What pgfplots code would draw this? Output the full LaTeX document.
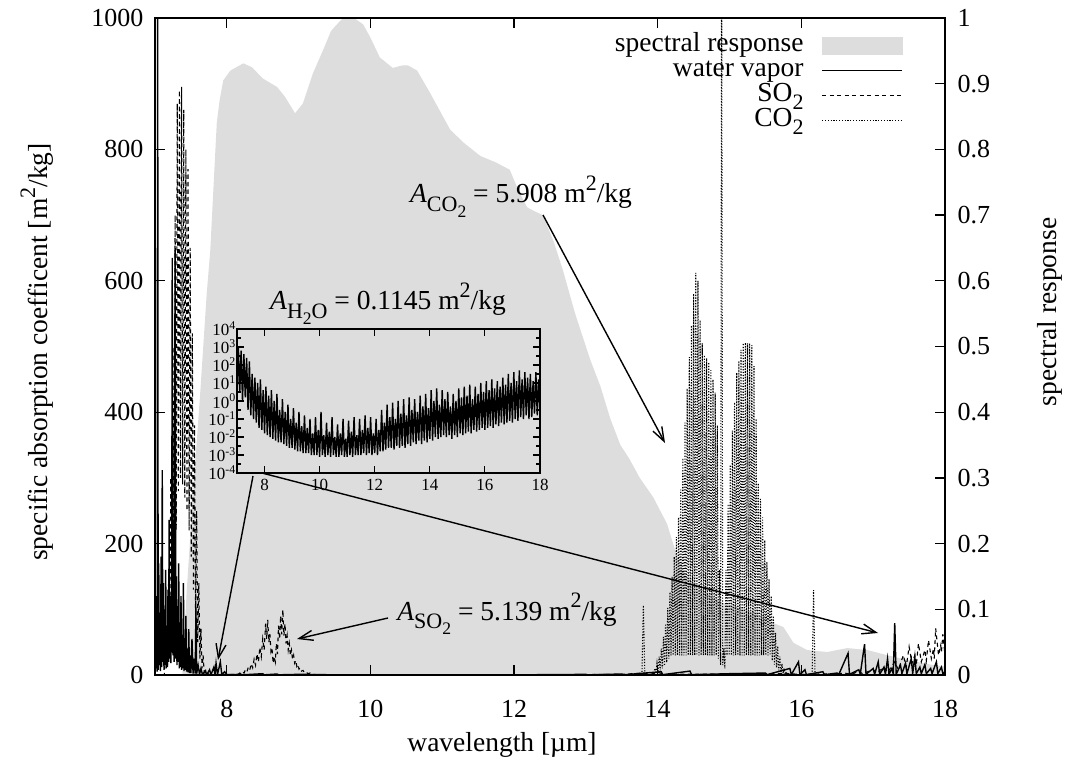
\documentclass[border=0pt]{standalone}
\usepackage{fontspec}
\setmainfont{Liberation Serif}
\usepackage{graphicx}
\usepackage{pgfplots}
\pgfplotsset{compat=1.18}
\usetikzlibrary{arrows.meta}
\definecolor{srgray}{RGB}{221,221,221}
\newcommand{\gsub}[1]{\raisebox{-0.3em}{\scalebox{0.8}{#1}}}
\newcommand{\gsup}[1]{\raisebox{0.45em}{\scalebox{0.8}{#1}}}
\begin{document}
\begin{tikzpicture}[font=\fontsize{27.5}{32}\selectfont]
% ---------- right axis: spectral response ----------
\begin{axis}[
  at={(0pt,0pt)}, anchor=south west, scale only axis,
  width=790pt, height=657pt,
  xmin=7, xmax=18, ymin=0, ymax=1,
  axis x line=none, axis y line*=right,
  ytick={0,0.1,0.2,0.3,0.4,0.5,0.6,0.7,0.8,0.9,1},
  yticklabels={0,0.1,0.2,0.3,0.4,0.5,0.6,0.7,0.8,0.9,1},
  tick align=inside, major tick length=10pt,
  axis line style={line width=1.3pt},
  every tick/.style={line width=1.3pt, black},
  yticklabel style={font=\fontsize{26}{31}\selectfont, xshift=9pt},
]
\addplot[fill=srgray, draw=none] coordinates {
(7.38,0) (7.44,0.125) (7.53,0.277) (7.63,0.43) (7.72,0.58) (7.77,0.647) (7.81,0.733)
(7.86,0.84) (7.90,0.875) (7.95,0.905) (8.05,0.92) (8.23,0.931) (8.35,0.925) (8.50,0.908)
(8.70,0.895) (8.81,0.88) (8.95,0.855) (9.06,0.87) (9.20,0.916) (9.34,0.951) (9.45,0.98)
(9.53,0.99) (9.62,1.0) (9.72,1.0) (9.80,0.998) (9.90,0.99) (10.0,0.97) (10.13,0.94)
(10.31,0.924) (10.45,0.928) (10.52,0.928) (10.65,0.92) (10.83,0.886) (11.11,0.83)
(11.3,0.81) (11.53,0.79) (11.75,0.78) (11.94,0.769) (12.05,0.74) (12.18,0.712)
(12.30,0.705) (12.40,0.70) (12.55,0.66) (12.68,0.616) (12.85,0.55) (13.06,0.48)
(13.2,0.44) (13.34,0.39) (13.48,0.35) (13.6,0.33) (13.75,0.30) (13.94,0.27)
(14.13,0.23) (14.27,0.18) (14.4,0.15) (14.6,0.13) (14.9,0.11) (15.2,0.10) (15.45,0.09)
(15.61,0.079) (15.75,0.073) (15.89,0.049) (16.08,0.038) (16.36,0.035) (16.64,0.041)
(16.92,0.038) (17.2,0.03) (17.47,0.023) (17.84,0.015) (18.0,0.013)
} \closedcycle;
\end{axis}
% ---------- left axis: absorption coefficients ----------
\begin{axis}[
  at={(0pt,0pt)}, anchor=south west, scale only axis,
  width=790pt, height=657pt,
  xmin=7, xmax=18, ymin=0, ymax=1000,
  xtick={8,10,12,14,16,18}, ytick={0,200,400,600,800,1000},
  xtick pos=both, ytick pos=left,
  tick align=inside, major tick length=10pt,
  /pgf/number format/assume math mode=true,
  /pgf/number format/1000 sep={},
  axis line style={line width=1.3pt},
  every tick/.style={line width=1.3pt, black},
  tick label style={font=\fontsize{26}{31}\selectfont},
  xticklabel style={yshift=-22pt},
  yticklabel style={xshift=-8pt},
  legend style={draw=none, fill=none, at={(0.947,0.977)}, anchor=north east,
    inner sep=0pt, row sep=1pt, column sep=18pt,
    nodes={inner sep=0pt, text height=18pt, text depth=6pt},
    font=\fontsize{27.5}{32}\selectfont},
  legend cell align=right, legend plot pos=right,
  legend image code/.code={\draw[#1] (0pt,0pt) -- (80pt,0pt);},
]
\addlegendimage{legend image code/.code={\fill[srgray] (0pt,-8.5pt) rectangle (80pt,8.5pt);}}
\addlegendentry{spectral response}
\addplot[black, line width=1.4pt] coordinates {
(7.000,0) (7.008,120) (7.014,10) (7.022,60) (7.030,5) (7.037,1100) (7.044,8) (7.052,170)
(7.060,15) (7.068,95) (7.076,6) (7.085,180) (7.093,12) (7.101,312) (7.109,20) (7.117,140)
(7.125,8) (7.133,100) (7.141,15) (7.149,160) (7.157,10) (7.165,75) (7.173,12) (7.181,130)
(7.189,20) (7.197,236) (7.205,25) (7.213,120) (7.221,18) (7.232,90) (7.240,635) (7.250,30)
(7.258,110) (7.266,20) (7.280,647) (7.290,25) (7.298,150) (7.306,15) (7.314,90) (7.322,20)
(7.330,170) (7.338,10) (7.346,80) (7.354,12) (7.362,120) (7.370,8) (7.380,60) (7.388,10)
(7.396,140) (7.404,6) (7.412,50) (7.420,8) (7.430,90) (7.440,5) (7.450,40) (7.460,4)
(7.470,70) (7.480,3) (7.490,30) (7.500,3) (7.515,55) (7.530,2) (7.545,25) (7.560,2)
(7.570,103) (7.580,2) (7.600,15) (7.620,1) (7.640,10) (7.660,1) (7.700,6) (7.720,0.5)
(7.760,8) (7.780,0.5) (7.820,12) (7.835,0.5) (7.850,18) (7.870,0.5) (7.910,20) (7.930,0.5)
(7.970,5) (8.000,0.5) (8.200,1) (8.220,0.3) (8.500,2) (8.520,0.3) (8.700,1.5) (8.720,0.3)
(9.000,1) (9.500,0.3) (10.500,0.3) (11.500,0.3) (12.500,0.5) (13.000,1) (13.020,0.3)
(13.500,1.5) (13.520,0.3) (14.050,5) (14.070,0.5) (14.450,6) (14.470,0.5) (15.000,2)
(15.500,3) (15.520,0.5) (15.840,10) (15.860,0.5) (15.960,20) (15.980,0.5) (16.050,8)
(16.070,0.5) (16.300,5) (16.320,0.5) (16.500,3) (16.520,0.5) (16.650,33) (16.670,1)
(16.800,8) (16.820,1) (16.880,47) (16.900,1) (17.000,10) (17.020,1) (17.070,20) (17.090,1)
(17.150,12) (17.170,1) (17.200,25) (17.220,1) (17.260,10) (17.280,1) (17.300,79) (17.320,1)
(17.380,15) (17.400,2) (17.450,18) (17.470,2) (17.530,25) (17.550,2) (17.580,28) (17.600,2)
(17.650,12) (17.670,2) (17.720,16) (17.740,2) (17.800,10) (17.820,2) (17.880,20) (17.900,2)
(17.950,12) (17.970,2) (18.000,5)
};
\addlegendentry{water vapor}
\addplot[black, line width=1.1pt, dash pattern=on 4pt off 3.5pt] coordinates {
(7.000,0) (7.130,0) (7.16,60) (7.175,15) (7.19,150) (7.205,40) (7.22,300) (7.235,80)
(7.25,500) (7.265,150) (7.28,700) (7.295,220) (7.31,870) (7.325,280) (7.34,890) (7.355,300)
(7.37,895) (7.385,290) (7.40,860) (7.415,270) (7.43,800) (7.445,250) (7.46,770) (7.475,220)
(7.49,650) (7.505,180) (7.52,520) (7.535,130) (7.55,380) (7.565,90) (7.58,250) (7.595,50)
(7.61,140) (7.625,25) (7.64,70) (7.655,10) (7.67,30) (7.685,4) (7.70,10) (7.715,1) (7.73,3)
(7.76,0.5) (8.10,1) (8.14,2) (8.16,1) (8.18,3) (8.20,2) (8.22,5) (8.24,3) (8.26,8) (8.28,5)
(8.30,12) (8.32,8) (8.34,17) (8.36,11) (8.38,24) (8.40,15) (8.42,32) (8.44,20) (8.46,42)
(8.48,28) (8.50,55) (8.52,38) (8.54,78) (8.555,55) (8.57,84) (8.585,50) (8.60,62) (8.615,35)
(8.63,40) (8.645,18) (8.66,28) (8.675,20) (8.69,48) (8.705,32) (8.72,75) (8.735,55) (8.75,90)
(8.765,62) (8.78,99) (8.795,60) (8.81,78) (8.825,48) (8.84,60) (8.855,38) (8.87,48) (8.885,30)
(8.90,38) (8.915,24) (8.93,30) (8.945,18) (8.96,22) (8.975,13) (8.99,16) (9.005,9) (9.02,11)
(9.04,6) (9.06,7) (9.08,4) (9.10,5) (9.13,2) (9.16,3) (9.20,1) (9.25,0.5) (10.5,0.2)
(12.5,0.2) (13.5,1) (13.8,3) (13.9,1) (14.0,4) (14.1,1) (15.8,2) (16.0,1) (16.5,2) (16.6,3)
(16.7,1) (16.8,6) (16.85,2) (17.0,8) (17.05,3) (17.15,12) (17.2,4) (17.3,20) (17.35,8)
(17.42,30) (17.46,12) (17.5,43) (17.54,18) (17.58,30) (17.6,15) (17.63,48) (17.67,20)
(17.72,38) (17.74,22) (17.77,53) (17.81,25) (17.84,40) (17.85,25) (17.87,71) (17.91,30)
(17.94,45) (17.95,35) (17.97,62) (18.0,30)
};
\addlegendentry{SO\gsub{2}}
\addplot[black, line width=1.1pt, dash pattern=on 1.1pt off 1.7pt] coordinates {
(7.0,0) (13.78,0) (13.80,106) (13.82,0) (13.88,0)
(13.90,2) (13.915,0.5) (13.93,5) (13.945,1) (13.96,10) (13.975,2) (13.99,18) (14.005,4)
(14.02,28) (14.035,7) (14.05,40) (14.065,10) (14.08,58) (14.095,14) (14.11,78) (14.125,19)
(14.14,102) (14.155,25) (14.17,126) (14.185,30) (14.20,150) (14.215,30) (14.23,180) (14.245,30)
(14.26,210) (14.275,30) (14.29,240) (14.305,30) (14.32,282) (14.335,30) (14.35,330) (14.365,30)
(14.38,384) (14.395,30) (14.41,436) (14.425,30) (14.44,484) (14.455,30) (14.47,532) (14.485,30)
(14.50,580) (14.515,30) (14.53,612) (14.545,30) (14.56,600) (14.575,30) (14.59,540) (14.605,30)
(14.62,505) (14.635,30) (14.65,487) (14.665,30) (14.68,482) (14.695,30) (14.71,476) (14.725,30)
(14.74,464) (14.755,30) (14.77,450) (14.785,30) (14.80,430) (14.815,30) (14.83,380) (14.845,25)
(14.86,160) (14.875,15) (14.89,1100) (14.905,15) (14.92,40) (14.935,10) (14.95,160) (14.965,30)
(14.98,260) (14.995,30) (15.01,320) (15.025,30) (15.04,372) (15.055,30) (15.07,415) (15.085,30)
(15.10,460) (15.115,30) (15.13,478) (15.145,30) (15.16,495) (15.175,30) (15.19,505) (15.205,30)
(15.22,506) (15.235,30) (15.25,505) (15.265,30) (15.28,505) (15.295,30) (15.31,502) (15.325,30)
(15.34,470) (15.355,30) (15.37,390) (15.385,30) (15.40,292) (15.415,30) (15.43,268) (15.445,30)
(15.46,240) (15.475,30) (15.49,205) (15.505,30) (15.52,172) (15.535,30) (15.55,146) (15.565,30)
(15.58,120) (15.595,22) (15.61,90) (15.625,16) (15.64,64) (15.655,11) (15.67,44) (15.685,7)
(15.70,28) (15.715,4) (15.73,17) (15.745,2) (15.76,10) (15.775,1) (15.79,5) (15.805,0.5)
(15.82,2) (15.85,0) (16.15,0) (16.17,129) (16.19,0) (18,0)
};
\addlegendentry{CO\gsub{2}}
\end{axis}
% ---------- inset ----------
\begin{axis}[
  at={(82pt,202pt)}, anchor=south west, scale only axis,
  width=303pt, height=144pt,
  xmin=7, xmax=18, ymode=log, ymin=1e-4, ymax=1e4,
  xtick={8,10,12,14,16,18}, xtick pos=both,
  ytick={1e-4,1e-3,1e-2,1e-1,1,1e1,1e2,1e3,1e4}, ytick pos=both,
  yticklabels={10\textsuperscript{-4},10\textsuperscript{-3},10\textsuperscript{-2},10\textsuperscript{-1},10\textsuperscript{0},10\textsuperscript{1},10\textsuperscript{2},10\textsuperscript{3},10\textsuperscript{4}},
  minor ytick={3.16e-4,3.16e-3,3.16e-2,3.16e-1,3.16,31.6,316,3160},
  tick align=inside, major tick length=7pt, minor tick length=4pt,
  /pgf/number format/assume math mode=true,
  axis line style={line width=1.3pt},
  every tick/.style={line width=1.1pt, black},
  tick label style={font=\fontsize{17}{20}\selectfont},
  xticklabel style={yshift=-3pt},
  yticklabel style={inner sep=1pt},
]
\addplot[black, line width=1.4pt] coordinates {
(7.00,2) (7.05,1000) (7.10,3.2) (7.15,630) (7.20,1) (7.25,400) (7.30,1.6) (7.35,250)
(7.40,0.32) (7.45,160) (7.50,0.16) (7.55,32) (7.60,0.1) (7.65,20) (7.70,0.063) (7.75,10)
(7.80,0.032) (7.85,16) (7.90,0.025) (7.95,4) (8.00,0.016) (8.05,6.3) (8.10,0.0126) (8.15,2)
(8.20,0.01) (8.25,4) (8.30,0.008) (8.35,1) (8.40,0.0063) (8.45,2.5) (8.50,0.005) (8.55,0.32)
(8.60,0.005) (8.65,1.26) (8.70,0.004) (8.75,0.25) (8.80,0.0032) (8.85,0.63) (8.90,0.0025)
(8.95,0.1) (9.00,0.0025) (9.05,0.4) (9.10,0.002) (9.15,0.063) (9.20,0.0016) (9.25,0.25)
(9.30,0.0016) (9.35,0.04) (9.40,0.00126) (9.45,0.16) (9.50,0.00126) (9.55,0.032)
(9.60,0.00126) (9.65,0.1) (9.70,0.001) (9.75,0.016) (9.80,0.001) (9.85,0.126) (9.90,0.001)
(9.95,0.025) (10.00,0.0008) (10.05,0.25) (10.10,0.001) (10.15,0.0126) (10.20,0.0008)
(10.25,0.063) (10.30,0.001) (10.35,0.02) (10.40,0.0008) (10.45,0.126) (10.50,0.001)
(10.55,0.01) (10.60,0.0008) (10.65,0.05) (10.70,0.0008) (10.75,0.016) (10.80,0.001)
(10.85,0.1) (10.90,0.0008) (10.95,0.008) (11.00,0.0008) (11.05,0.08) (11.10,0.001)
(11.15,0.02) (11.20,0.0008) (11.25,0.126) (11.30,0.001) (11.35,0.0126) (11.40,0.001)
(11.45,0.1) (11.50,0.001) (11.55,0.025) (11.60,0.00126) (11.65,0.16) (11.70,0.001)
(11.75,0.032) (11.80,0.00126) (11.85,0.126) (11.90,0.001) (11.95,0.016) (12.00,0.00126)
(12.05,0.1) (12.10,0.001) (12.15,0.025) (12.20,0.0016) (12.25,0.32) (12.30,0.0016)
(12.35,0.063) (12.40,0.002) (12.45,0.63) (12.50,0.0025) (12.55,0.126) (12.60,0.0025)
(12.65,0.8) (12.70,0.002) (12.75,0.1) (12.80,0.0032) (12.85,1) (12.90,0.0025) (12.95,0.2)
(13.00,0.0032) (13.05,1.26) (13.10,0.0025) (13.15,0.16) (13.20,0.004) (13.25,1.6)
(13.30,0.0032) (13.35,0.32) (13.40,0.005) (13.45,1.26) (13.50,0.004) (13.55,0.25)
(13.60,0.0063) (13.65,2) (13.70,0.004) (13.75,0.5) (13.80,0.0063) (13.85,2.5) (13.90,0.005)
(13.95,0.4) (14.00,0.008) (14.05,4) (14.10,0.0063) (14.15,1) (14.20,0.01) (14.25,5)
(14.30,0.008) (14.35,0.63) (14.40,0.01) (14.45,4) (14.50,0.0126) (14.55,1.26) (14.60,0.01)
(14.65,3.2) (14.70,0.0126) (14.75,0.5) (14.80,0.008) (14.85,2.5) (14.90,0.0126) (14.95,1)
(15.00,0.01) (15.05,5) (15.10,0.016) (15.15,1.6) (15.20,0.0126) (15.25,6.3) (15.30,0.016)
(15.35,2) (15.40,0.02) (15.45,8) (15.50,0.016) (15.55,1.26) (15.60,0.025) (15.65,6.3)
(15.70,0.02) (15.75,2.5) (15.80,0.025) (15.85,10) (15.90,0.032) (15.95,3.2) (16.00,0.025)
(16.05,12.6) (16.10,0.032) (16.15,4) (16.20,0.04) (16.25,16) (16.30,0.032) (16.35,5)
(16.40,0.05) (16.45,12.6) (16.50,0.04) (16.55,6.3) (16.60,0.063) (16.65,20) (16.70,0.05)
(16.75,8) (16.80,0.063) (16.85,32) (16.90,0.08) (16.95,10) (17.00,0.063) (17.05,40)
(17.10,0.1) (17.15,12.6) (17.20,0.08) (17.25,50) (17.30,0.126) (17.35,16) (17.40,0.1)
(17.45,40) (17.50,0.16) (17.55,20) (17.60,0.1) (17.65,32) (17.70,0.126) (17.75,12.6)
(17.80,0.2) (17.85,40) (17.90,0.16) (17.95,16) (18.00,0.32)
};
\end{axis}
% ---------- labels and annotations ----------
\node[rotate=90] at (-118pt,323pt) {specific absorption coefficent [m\gsup{2}/kg]};
\node[rotate=90] at (895pt,363pt) {spectral response};
\node at (347pt,-70pt) {wavelength [µm]};
\node[anchor=base] at (366pt,472pt) {\textit{A}\gsub{CO\gsub{2}} = 5.908 m\gsup{2}/kg};
\node[anchor=base] at (233pt,365pt) {\textit{A}\gsub{H\gsub{2}O} = 0.1145 m\gsup{2}/kg};
\node[anchor=base] at (352pt,55pt) {\textit{A}\gsub{SO\gsub{2}} = 5.139 m\gsup{2}/kg};
\begin{scope}[line width=1.4pt, -{Straight Barb[length=14pt,width=10pt,line width=1.4pt]}]
\draw (388pt,460pt) -- (510pt,232pt);
\draw (98pt,199pt) -- (63pt,15pt);
\draw (107pt,202pt) -- (723pt,42pt);
\draw (233pt,57pt) -- (142pt,36pt);
\end{scope}
\pgfresetboundingbox
\path (-155pt,-86pt) rectangle (910pt,675pt);
\end{tikzpicture}
\end{document}
